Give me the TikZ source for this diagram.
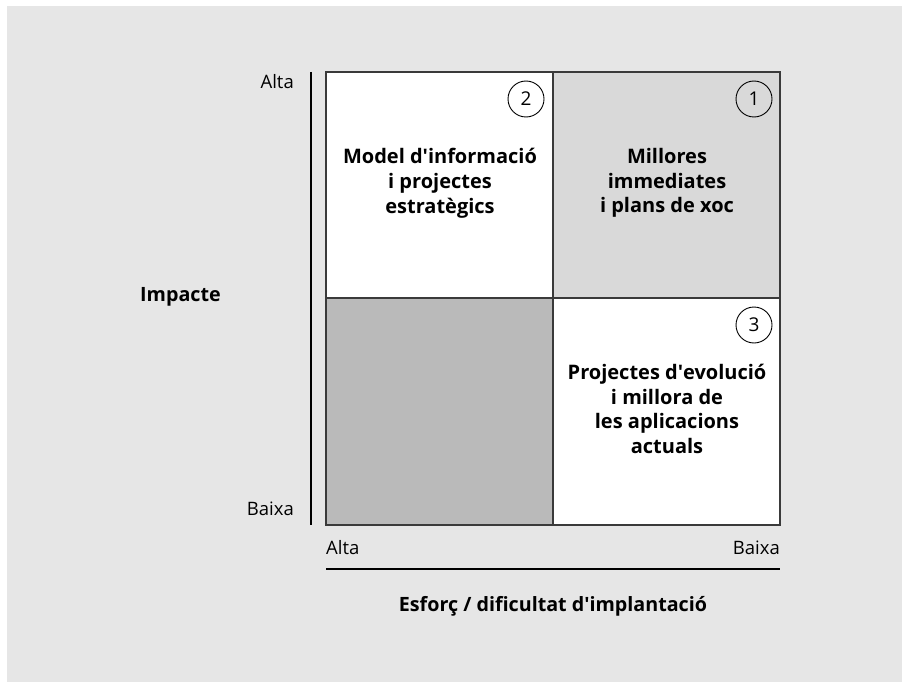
\documentclass[tikz,border=0pt]{standalone}
\usepackage{fontspec}
\setmainfont{Open Sans}[Ligatures=TeXOff]
\definecolor{bggray}{HTML}{E6E6E6}
\definecolor{qone}{HTML}{D9D9D9}
\definecolor{qfour}{HTML}{BABABA}
\definecolor{linec}{HTML}{3A3A3A}
\newcommand{\ap}{\XeTeXglyph\XeTeXcharglyph"0027\relax}
\begin{document}
\begin{tikzpicture}[x=1pt,y=-1pt,
  quad/.style={draw=linec,line width=1.2pt},
  qtext/.style={align=center,font=\fontsize{20}{24.8}\selectfont\bfseries,text=black},
  lbl/.style={font=\fontsize{18.5}{20}\selectfont,text=black,inner sep=0pt},
  num/.style={circle,draw=black,line width=0.9pt,minimum size=36pt,inner sep=0pt,font=\fontsize{19}{20}\selectfont},
  axis/.style={draw=black,line width=1.1pt}]
\useasboundingbox (0,0) rectangle (902,682);
\fill[white] (0,0) rectangle (902,682);
\fill[bggray] (7,6) rectangle (902,682);
% quadrants
\path[quad,fill=white] (326,72) rectangle (553,298);
\path[quad,fill=qone] (553,72) rectangle (780,298);
\path[quad,fill=qfour] (326,298) rectangle (553,525);
\path[quad,fill=white] (553,298) rectangle (780,525);
% numbers
\node[num] (n2) at (526,99) {2};
\node[num] (n1) at (754,99) {1};
\node[num] (n3) at (754,325) {3};
% quadrant texts
\node[qtext] (t2) at (440,183) {Model d\ap informació\\i projectes\\estratègics};
\node[qtext] (t1) at (667,183) {Millores\\immediates\\i plans de xoc};
\node[qtext] (t3) at (667,409) {Projectes d\ap evolució\\i millora de\\les aplicacions\\actuals};
% axes
\coordinate (vt) at (311,72);
\coordinate (vb) at (311,525);
\draw[axis] (vt) -- (vb);
\coordinate (hl) at (326,569);
\coordinate (hr) at (780,569);
\draw[axis] (hl) -- (hr);
% labels
\node[lbl,anchor=east] (ya) at (294,82) {Alta};
\node[lbl,anchor=east] (yb) at (294,509) {Baixa};
\node[lbl,anchor=west,font=\fontsize{19.7}{20}\selectfont\bfseries] (yl) at (140,297) {Impacte};
\node[lbl,anchor=west] (xa) at (326,548) {Alta};
\node[lbl,anchor=east] (xb) at (780,548) {Baixa};
\node[lbl,font=\fontsize{19.7}{20}\selectfont\bfseries] (xl) at (553,606) {Esforç / dificultat d\ap implantació};
\end{tikzpicture}
\end{document}
